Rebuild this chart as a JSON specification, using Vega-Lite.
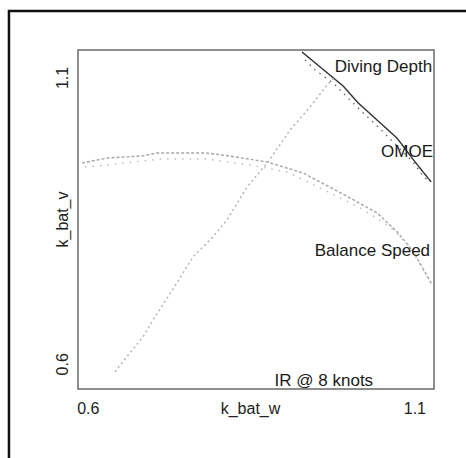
{
  "$schema": "https://vega.github.io/schema/vega-lite/v6.json",
  "width": 356,
  "height": 339,
  "autosize": {"type": "none"},
  "padding": {"left": 78, "top": 50, "right": 32, "bottom": 69},
  "background": "white",
  "config": {
    "view": {"stroke": "#6a6a6a", "strokeWidth": 1.5},
    "font": "Liberation Sans",
    "axis": {"grid": false, "ticks": false, "domain": false, "labelFontSize": 16, "titleFontSize": 16, "labelColor": "#222", "titleColor": "#222", "titleFontWeight": "normal"}
  },
  "datasets": {
    "curves": [
      {"curve": "Diving Depth", "i": 1, "x": 0.928, "y": 1.1445},
      {"curve": "Diving Depth", "i": 2, "x": 0.991, "y": 1.085},
      {"curve": "Diving Depth", "i": 3, "x": 1.014, "y": 1.0555},
      {"curve": "Diving Depth", "i": 4, "x": 1.0735, "y": 0.994},
      {"curve": "Diving Depth", "i": 5, "x": 1.101, "y": 0.9525},
      {"curve": "Diving Depth", "i": 6, "x": 1.1256, "y": 0.9176},
      {"curve": "OMOE", "i": 1, "x": 0.9326, "y": 1.1305},
      {"curve": "OMOE", "i": 2, "x": 0.948, "y": 1.113},
      {"curve": "OMOE", "i": 3, "x": 0.9755, "y": 1.0904},
      {"curve": "OMOE", "i": 4, "x": 0.9939, "y": 1.0695},
      {"curve": "OMOE", "i": 5, "x": 1.0168, "y": 1.0433},
      {"curve": "OMOE", "i": 6, "x": 1.0444, "y": 1.0136},
      {"curve": "OMOE", "i": 7, "x": 1.0674, "y": 0.9874},
      {"curve": "OMOE", "i": 8, "x": 1.098, "y": 0.9525},
      {"curve": "OMOE", "i": 9, "x": 1.1118, "y": 0.9299},
      {"curve": "OMOE", "i": 10, "x": 1.1195, "y": 0.9212},
      {"curve": "Balance Speed", "i": 1, "x": 0.5911, "y": 0.9508},
      {"curve": "Balance Speed", "i": 2, "x": 0.631, "y": 0.9595},
      {"curve": "Balance Speed", "i": 3, "x": 0.683, "y": 0.963},
      {"curve": "Balance Speed", "i": 4, "x": 0.706, "y": 0.9682},
      {"curve": "Balance Speed", "i": 5, "x": 0.7795, "y": 0.9682},
      {"curve": "Balance Speed", "i": 6, "x": 0.8055, "y": 0.9648},
      {"curve": "Balance Speed", "i": 7, "x": 0.8744, "y": 0.9525},
      {"curve": "Balance Speed", "i": 8, "x": 0.9296, "y": 0.9333},
      {"curve": "Balance Speed", "i": 9, "x": 0.991, "y": 0.8962},
      {"curve": "Balance Speed", "i": 10, "x": 1.0429, "y": 0.8635},
      {"curve": "Balance Speed", "i": 11, "x": 1.0735, "y": 0.8304},
      {"curve": "Balance Speed", "i": 12, "x": 1.098, "y": 0.797},
      {"curve": "Balance Speed", "i": 13, "x": 1.1271, "y": 0.7379},
      {"curve": "Balance Speed 2", "i": 1, "x": 0.5957, "y": 0.9438},
      {"curve": "Balance Speed 2", "i": 2, "x": 0.631, "y": 0.9473},
      {"curve": "Balance Speed 2", "i": 3, "x": 0.657, "y": 0.9508},
      {"curve": "Balance Speed 2", "i": 4, "x": 0.6845, "y": 0.9543},
      {"curve": "Balance Speed 2", "i": 5, "x": 0.7152, "y": 0.9578},
      {"curve": "Balance Speed 2", "i": 6, "x": 0.7795, "y": 0.9578},
      {"curve": "Balance Speed 2", "i": 7, "x": 0.8484, "y": 0.9473},
      {"curve": "Balance Speed 2", "i": 8, "x": 0.905, "y": 0.935},
      {"curve": "Balance Speed 2", "i": 9, "x": 0.9709, "y": 0.8984},
      {"curve": "Balance Speed 2", "i": 10, "x": 1.0168, "y": 0.8723},
      {"curve": "Balance Speed 2", "i": 11, "x": 1.0628, "y": 0.8391},
      {"curve": "Balance Speed 2", "i": 12, "x": 1.0934, "y": 0.8042},
      {"curve": "Balance Speed 2", "i": 13, "x": 1.1194, "y": 0.7518},
      {"curve": "IR @ 8 knots", "i": 1, "x": 0.6417, "y": 0.586},
      {"curve": "IR @ 8 knots", "i": 2, "x": 0.6646, "y": 0.6192},
      {"curve": "IR @ 8 knots", "i": 3, "x": 0.6845, "y": 0.6471},
      {"curve": "IR @ 8 knots", "i": 4, "x": 0.6999, "y": 0.6768},
      {"curve": "IR @ 8 knots", "i": 5, "x": 0.7366, "y": 0.7414},
      {"curve": "IR @ 8 knots", "i": 6, "x": 0.7611, "y": 0.7867},
      {"curve": "IR @ 8 knots", "i": 7, "x": 0.7917, "y": 0.8217},
      {"curve": "IR @ 8 knots", "i": 8, "x": 0.8132, "y": 0.8513},
      {"curve": "IR @ 8 knots", "i": 9, "x": 0.8438, "y": 0.9089},
      {"curve": "IR @ 8 knots", "i": 10, "x": 0.876, "y": 0.9525},
      {"curve": "IR @ 8 knots", "i": 11, "x": 0.9097, "y": 1.0084},
      {"curve": "IR @ 8 knots", "i": 12, "x": 0.9403, "y": 1.0485},
      {"curve": "IR @ 8 knots", "i": 13, "x": 0.9663, "y": 1.0869},
      {"curve": "IR @ 8 knots", "i": 14, "x": 0.9786, "y": 1.1009}
    ],
    "labels": [
      {"text": "Diving Depth", "x": 1.1271, "y": 1.1096},
      {"text": "OMOE", "x": 1.1285, "y": 0.9613},
      {"text": "Balance Speed", "x": 1.124, "y": 0.7885},
      {"text": "IR @ 8 knots", "x": 1.0368, "y": 0.5616}
    ]
  },
  "layer": [
    {
      "data": {"values": [{}]},
      "mark": {"type": "rect", "fillOpacity": 0, "stroke": "#111", "strokeWidth": 2.5},
      "encoding": {
        "x": {"datum": 0.4793, "type": "quantitative", "title": "k_bat_w", "scale": {"domain": [0.585, 1.13], "nice": false, "zero": false}},
        "x2": {"datum": 1.3},
        "y": {"datum": 1.2161, "type": "quantitative", "title": "k_bat_v", "scale": {"domain": [0.556, 1.148], "nice": false, "zero": false}},
        "y2": {"datum": 0.4}
      }
    },
    {
      "data": {"name": "curves"},
      "mark": {"type": "line", "interpolate": "linear"},
      "encoding": {
        "x": {"field": "x", "type": "quantitative", "title": "k_bat_w",
              "scale": {"domain": [0.585, 1.13], "nice": false, "zero": false},
              "axis": {"values": [0.6, 1.1], "format": ".1f", "labelPadding": 11, "labelBaseline": "top", "titleY": 11, "titleX": 172, "titleBaseline": "top", "titleAlign": "center"}},
        "y": {"field": "y", "type": "quantitative", "title": "k_bat_v",
              "scale": {"domain": [0.556, 1.148], "nice": false, "zero": false},
              "axis": {"values": [0.6, 1.1], "format": ".1f", "labelAngle": 270, "labelAlign": "center", "labelBaseline": "alphabetic", "labelPadding": 11, "titleX": -11, "titleY": 169, "titleAngle": 270, "titleBaseline": "alphabetic", "titleAlign": "center"}},
        "order": {"field": "i", "type": "quantitative"},
        "color": {"field": "curve", "type": "nominal", "legend": null,
                  "scale": {"domain": ["Diving Depth", "OMOE", "Balance Speed", "Balance Speed 2", "IR @ 8 knots"], "range": ["#333333", "#6e6e6e", "#a8a8a8", "#bdbdbd", "#b4b4b4"]}},
        "strokeDash": {"field": "curve", "type": "nominal", "legend": null,
                  "scale": {"domain": ["Diving Depth", "OMOE", "Balance Speed", "Balance Speed 2", "IR @ 8 knots"], "range": [[1, 0], [1.5, 5], [3, 2], [1.5, 6], [2, 3]]}},
        "strokeWidth": {"field": "curve", "type": "nominal", "legend": null,
                  "scale": {"domain": ["Diving Depth", "OMOE", "Balance Speed", "Balance Speed 2", "IR @ 8 knots"], "range": [1.4, 1.5, 1.2, 1.5, 1.2]}}
      }
    },
    {
      "data": {"name": "labels"},
      "mark": {"type": "text", "align": "right", "baseline": "alphabetic", "fontSize": 17, "color": "#1a1a1a"},
      "encoding": {
        "x": {"field": "x", "type": "quantitative", "title": "k_bat_w", "scale": {"domain": [0.585, 1.13], "nice": false, "zero": false}},
        "y": {"field": "y", "type": "quantitative", "title": "k_bat_v", "scale": {"domain": [0.556, 1.148], "nice": false, "zero": false}},
        "text": {"field": "text"}
      }
    }
  ]
}
